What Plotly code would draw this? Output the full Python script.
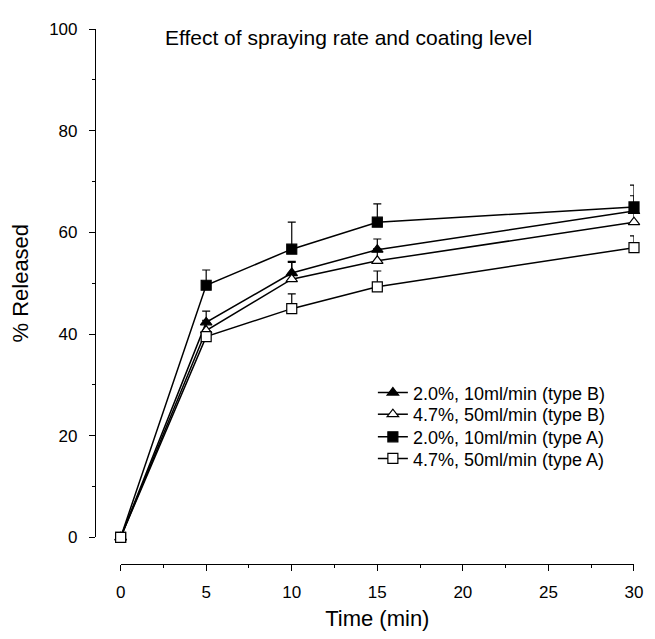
import plotly.graph_objects as go

time_min = [0, 5, 10, 15, 30]

names = [
    "2.0%, 10ml/min (type B)",
    "4.7%, 50ml/min (type B)",
    "2.0%, 10ml/min (type A)",
    "4.7%, 50ml/min (type A)",
]
b_20 = [0, 42.3, 52.0, 56.6, 64.2]
b_47 = [0, 40.7, 50.8, 54.4, 62.0]
a_20 = [0, 49.6, 56.7, 62.0, 65.0]
a_47 = [0, 39.5, 45.0, 49.3, 57.0]

b_20_err = [0, 2.2, 2.3, 2.1, 3.0]
b_47_err = [0, 2.0, 3.3, 2.4, 2.0]
a_20_err = [0, 3.0, 5.3, 3.6, 4.3]
a_47_err = [0, 0.6, 2.9, 3.1, 2.3]

series = [b_20, b_47, a_20, a_47]
errors = [b_20_err, b_47_err, a_20_err, a_47_err]
symbols = ["triangle-up", "triangle-up", "square", "square"]
fills = ["black", "white", "black", "white"]
legend_ids = ["legend", "legend2", "legend3", "legend4"]

fig = go.Figure()
for name, ys, err, sym, fc, lg in zip(names, series, errors, symbols, fills, legend_ids):
    fig.add_trace(go.Scatter(
        x=time_min, y=ys, name=name, mode="lines+markers", legend=lg,
        line=dict(color="black", width=1.5),
        marker=dict(symbol=sym, size=10, color=fc, line=dict(color="black", width=1.2)),
        error_y=dict(type="data", symmetric=False, array=err, arrayminus=[0] * len(err),
                     color="black", thickness=1.2, width=4),
        cliponaxis=False,
    ))

# page has an 8px body margin; figure is sized to fit inside the window
OFF = 8
W, H = 655 - OFF, 639 - OFF
L, T = 95 - OFF, 23 - OFF
R = W - (642 - OFF)
B = H - (567 - OFF)
pw, ph = W - L - R, H - T - B

legend_style = dict(bgcolor="rgba(0,0,0,0)", font=dict(size=18), itemwidth=30,
                    xanchor="left", yanchor="middle", x=(377 - 95) / pw)
row_centers = [393, 415, 438, 460]

layout_legends = {}
for lg, yc in zip(legend_ids, row_centers):
    layout_legends[lg] = dict(legend_style, y=(567 - yc) / ph)

fig.update_layout(
    width=W, height=H,
    margin=dict(l=L, r=R, t=T, b=B, pad=0),
    paper_bgcolor="white", plot_bgcolor="white",
    font=dict(family="Liberation Sans, Arial", size=17, color="black"),
    title=dict(text="Effect of spraying rate and coating level",
               x=(166 - OFF - L) / pw, xref="paper", xanchor="left",
               y=1 - (38 - OFF) / H, yref="container", yanchor="middle",
               font=dict(size=21, color="black")),
    xaxis=dict(
        domain=[(121 - 95) / pw, 1], anchor="free", position=0,
        range=[0, 30], tickvals=[0, 5, 10, 15, 20, 25, 30],
        showline=True, linecolor="black", linewidth=1.2,
        ticks="outside", ticklen=6, tickcolor="black", tickwidth=1,
        minor=dict(ticks="outside", dtick=2.5, tick0=0, ticklen=3, tickcolor="black"),
        showgrid=False, zeroline=False,
        ticklabelstandoff=6,
        title=dict(text="Time (min)", font=dict(size=22), standoff=10),
        tickfont=dict(size=17),
    ),
    yaxis=dict(
        domain=[(567 - 540) / ph, 1], anchor="free", position=0,
        range=[0, 100], tickvals=[0, 20, 40, 60, 80, 100],
        showline=True, linecolor="black", linewidth=1.2,
        ticks="outside", ticklen=6, tickcolor="black", tickwidth=1,
        minor=dict(ticks="outside", dtick=10, tick0=0, ticklen=3, tickcolor="black"),
        showgrid=False, zeroline=False,
        ticklabelstandoff=8,
        title=dict(text="% Released", font=dict(size=22), standoff=14),
        tickfont=dict(size=17),
    ),
    showlegend=True,
    **layout_legends,
)

fig.write_html("out.html")
